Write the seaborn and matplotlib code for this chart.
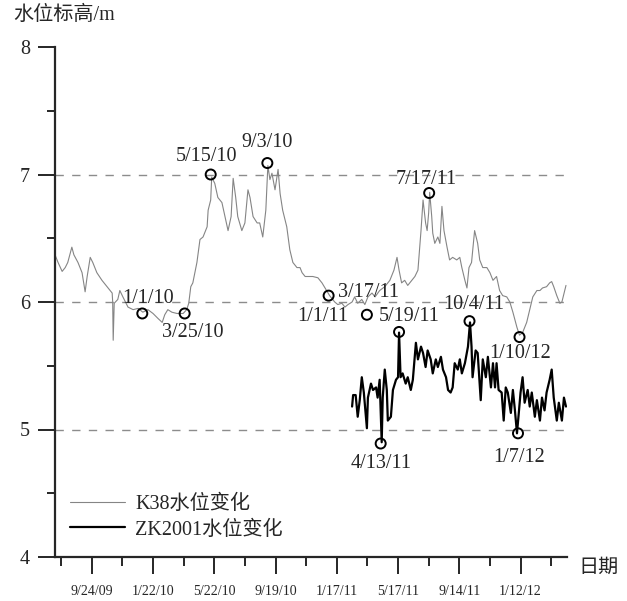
import numpy as np
import pandas as pd
import seaborn as sns
import matplotlib.pyplot as plt

# water level records, days counted from 2009-07-14
START = pd.Timestamp('2009-07-14')

k38_day = [0, 6, 14, 20, 25, 33, 37, 45, 53, 59, 63, 69, 74, 82, 92, 102, 112, 113, 114, 116,
           123, 127, 133, 143, 153, 163, 172, 182, 192, 202, 210, 215, 221, 229, 239, 251, 258,
           262, 266, 270, 278, 284, 290, 298, 300, 305, 307, 313, 319, 327, 333, 339, 345, 349,
           354, 358, 366, 372, 378, 382, 388, 396, 401, 407, 413, 417, 421, 425, 431, 437, 441,
           446, 454, 460, 466, 474, 480, 484, 490, 499, 505, 515, 523, 529, 538, 548, 554, 562,
           568, 574, 582, 587, 593, 601, 607, 613, 621, 627, 636, 646, 656, 664, 670, 674, 679,
           685, 691, 699, 705, 711, 717, 721, 726, 729, 732, 734, 738, 740, 744, 750, 754, 758,
           762, 768, 773, 779, 787, 793, 797, 803, 807, 811, 816, 822, 828, 832, 838, 846, 852,
           858, 865, 871, 877, 885, 891, 897, 905, 910, 916, 924, 930, 936, 944, 950, 955, 963,
           969, 973, 977, 983, 989, 993, 1001]
k38_level = [6.37, 6.31, 6.24, 6.27, 6.31, 6.43, 6.37, 6.31, 6.23, 6.08, 6.20, 6.35, 6.31, 6.23,
             6.17, 6.12, 6.07, 6.00, 5.70, 5.99, 6.02, 6.09, 6.04, 5.96, 5.94, 5.95, 5.92, 5.94,
             5.91, 5.87, 5.84, 5.90, 5.94, 5.92, 5.91, 5.91, 5.94, 5.99, 6.12, 6.15, 6.31, 6.49,
             6.51, 6.59, 6.72, 6.80, 6.98, 6.93, 6.82, 6.78, 6.67, 6.56, 6.67, 6.97, 6.82, 6.67,
             6.56, 6.62, 6.88, 6.82, 6.67, 6.62, 6.62, 6.51, 6.72, 7.07, 6.96, 7.01, 6.88, 7.04,
             6.85, 6.72, 6.59, 6.41, 6.31, 6.27, 6.27, 6.23, 6.20, 6.20, 6.20, 6.19, 6.15, 6.11,
             6.05, 6.00, 5.98, 5.99, 5.96, 5.98, 6.00, 6.04, 5.99, 6.02, 5.98, 6.04, 6.07, 6.04,
             6.09, 6.12, 6.17, 6.25, 6.35, 6.25, 6.15, 6.17, 6.13, 6.17, 6.20, 6.25, 6.56, 6.80,
             6.62, 6.56, 6.70, 6.86, 6.67, 6.54, 6.46, 6.51, 6.46, 6.75, 6.56, 6.43, 6.33, 6.35,
             6.33, 6.35, 6.27, 6.17, 6.11, 6.27, 6.31, 6.56, 6.46, 6.33, 6.27, 6.27, 6.23, 6.17,
             6.20, 6.09, 6.05, 6.04, 6.00, 5.92, 5.80, 5.74, 5.76, 5.84, 5.94, 6.04, 6.09, 6.09,
             6.11, 6.12, 6.15, 6.16, 6.12, 6.05, 5.99, 6.00, 6.13]

zk_day = [582, 584, 589, 593, 597, 601, 605, 611, 613, 619, 623, 629, 632, 636, 640, 642, 646,
          650, 652, 658, 662, 668, 672, 674, 677, 681, 687, 691, 697, 701, 707, 711, 717, 721,
          726, 730, 736, 740, 746, 750, 756, 760, 766, 770, 775, 779, 783, 789, 793, 797, 803,
          809, 813, 816, 818, 824, 828, 834, 838, 844, 848, 854, 858, 862, 865, 869, 875, 879,
          883, 887, 893, 897, 901, 905, 909, 912, 916, 920, 926, 930, 934, 940, 944, 950, 954,
          959, 963, 969, 973, 977, 983, 987, 993, 997, 1001]
zk_level = [5.18, 5.27, 5.27, 5.10, 5.23, 5.41, 5.29, 5.01, 5.25, 5.36, 5.31, 5.33, 5.25, 5.39,
            4.90, 5.25, 5.47, 5.31, 5.07, 5.10, 5.31, 5.39, 5.41, 5.76, 5.41, 5.44, 5.36, 5.41,
            5.31, 5.39, 5.68, 5.55, 5.65, 5.60, 5.49, 5.62, 5.55, 5.44, 5.55, 5.49, 5.57, 5.47,
            5.41, 5.31, 5.29, 5.33, 5.52, 5.47, 5.55, 5.44, 5.52, 5.65, 5.84, 5.65, 5.41, 5.62,
            5.60, 5.23, 5.55, 5.41, 5.57, 5.33, 5.52, 5.33, 5.52, 5.31, 5.29, 5.07, 5.33, 5.29,
            5.13, 5.31, 5.15, 4.97, 5.15, 5.29, 5.41, 5.21, 5.31, 5.18, 5.29, 5.10, 5.23, 5.07,
            5.25, 5.15, 5.29, 5.39, 5.47, 5.25, 5.07, 5.21, 5.07, 5.25, 5.18]

# marked extremes
k38_mark_labels = ['1/1/10', '3/25/10', '5/15/10', '9/3/10', '1/1/11', '3/17/11', '7/17/11', '1/10/12']
k38_mark_level = [5.91, 5.91, 7.00, 7.09, 6.05, 5.90, 6.855, 5.725]
zk_mark_labels = ['4/13/11', '5/19/11', '10/4/11', '1/7/12']
zk_mark_level = [4.89, 5.765, 5.85, 4.97]

# text offsets (points) for each mark label
k38_offsets = [(4, 11), (6, -14), (-3, 13), (0, 14.5), (-4, -15), (1, 16), (-2, 9.5), (0.5, -11.5)]
zk_offsets = [(0, -14.5), (7.5, 11), (3, 12), (0.5, -17.5)]

k38_df = pd.DataFrame({'date': START + pd.to_timedelta(k38_day, unit='D'), 'level': k38_level})
zk_df = pd.DataFrame({'date': START + pd.to_timedelta(zk_day, unit='D'), 'level': zk_level})
k38_marks = pd.DataFrame({'date': pd.to_datetime(k38_mark_labels, format='%m/%d/%y'), 'level': k38_mark_level})
zk_marks = pd.DataFrame({'date': pd.to_datetime(zk_mark_labels, format='%m/%d/%y'), 'level': zk_mark_level})

sns.set_style('ticks')
plt.rcParams['font.family'] = ['Liberation Serif', 'Noto Sans CJK SC']

fig = plt.figure(figsize=(6.27, 6.01), dpi=100)
ax = fig.add_axes([55 / 627, 44 / 601, 512 / 627, 510 / 601])

for yv in [5, 6, 7]:
    ax.axhline(yv, color='#8c8c8c', linewidth=1, dashes=(6, 6), zorder=0)

sns.lineplot(data=k38_df, x='date', y='level', color='#858585', linewidth=0.8,
             ax=ax, label='K38水位变化')
sns.lineplot(data=zk_df, x='date', y='level', color='black', linewidth=1.6,
             ax=ax, label='ZK2001水位变化')

for marks in (k38_marks, zk_marks):
    sns.scatterplot(data=marks, x='date', y='level', s=52, facecolors='none',
                    edgecolor='black', linewidth=1.4, ax=ax, zorder=5, legend=False)

for labels, marks, offsets in ((k38_mark_labels, k38_marks, k38_offsets),
                               (zk_mark_labels, zk_marks, zk_offsets)):
    for lab, (_, row), off in zip(labels, marks.iterrows(), offsets):
        ax.annotate(lab, (row['date'], row['level']), xytext=off, textcoords='offset points',
                    ha='center', va='center', fontsize=14.5, zorder=6)

ax.set_ylim(4, 8)
ax.set_xlim(START, START + pd.Timedelta(days=1003))
ax.set_yticks([4, 5, 6, 7, 8])
ax.set_yticks([4.5, 5.5, 6.5, 7.5], minor=True)
major = [pd.Timestamp('2009-09-24') + pd.Timedelta(days=120 * k) for k in range(8)]
minor = [pd.Timestamp('2009-07-26') + pd.Timedelta(days=120 * k) for k in range(9)]
ax.set_xticks(major)
ax.set_xticks(minor, minor=True)
ax.set_xticklabels([f'{d.month}/{d.day}/{d.strftime("%y")}' for d in major])
ax.tick_params(axis='x', which='major', length=12, width=1.4, pad=8, labelsize=10)
ax.tick_params(axis='x', which='minor', length=6.5, width=1.4)
ax.tick_params(axis='y', which='major', length=12, width=1.4, pad=6, labelsize=14.5)
ax.tick_params(axis='y', which='minor', length=6, width=1.4)
ax.set_xlabel('')
ax.set_ylabel('')
sns.despine(ax=ax)
for s in ('left', 'bottom'):
    ax.spines[s].set_linewidth(1.6)

ax.legend(loc='upper left', bbox_to_anchor=((70 - 55) / 512, (557 - 495) / 510),
          frameon=False, fontsize=14.5, handlelength=2.75, handletextpad=0.5,
          labelspacing=0.3, borderpad=0, borderaxespad=0)

fig.text(13 / 627, 1 - 15 / 601, '水位标高/m', fontsize=14.5, va='center', ha='left')
fig.text(578 / 627, 1 - 568 / 601, '日期', fontsize=14.5, va='center', ha='left')

fig.savefig('out.png', dpi=100)
